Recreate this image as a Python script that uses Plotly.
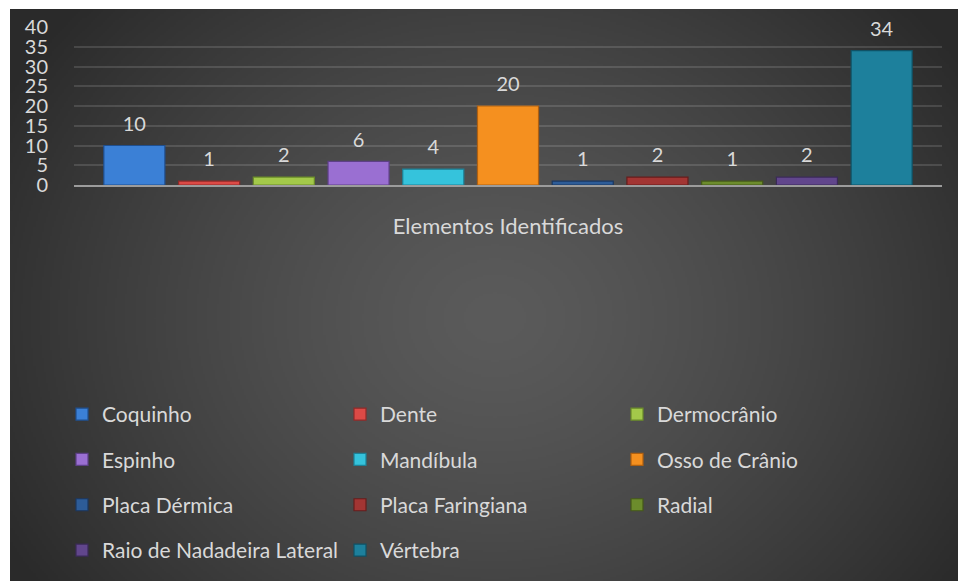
import base64, struct, zlib
import numpy as np
import plotly.graph_objects as go

# ---------------- data ----------------
categories = ["Elementos Identificados"]
series_names = ["Coquinho", "Dente", "Dermocrânio", "Espinho", "Mandíbula",
                "Osso de Crânio", "Placa Dérmica", "Placa Faringiana", "Radial",
                "Raio de Nadadeira Lateral", "Vértebra"]
series_values = [10, 1, 2, 6, 4, 20, 1, 2, 1, 2, 34]
series_colors = ["#3b80d6", "#dc4a46", "#a3c94a", "#9a6fd2", "#35c3dc", "#f5901f",
                 "#2d5c98", "#a23533", "#6c8c2c", "#61468c", "#1d809c"]
edge_colors = ["#1f4f8f", "#8f2a28", "#6a8a2a", "#5e4088", "#1d8298", "#b06010",
               "#1b3760", "#661d1c", "#45591a", "#3b2a58", "#0f5266"]
y_ticks = [0, 5, 10, 15, 20, 25, 30, 35, 40]

W, H = 958, 581
ML, MR, MT, MB = 74, 16, 27, 396
PW, PH = W - ML - MR, H - MT - MB

# ---------------- background gradient image ----------------
def gradient_png(w, h):
    yy, xx = np.mgrid[0:h, 0:w]
    cx, cy = w * 0.5, h * 0.52
    r = np.sqrt(((xx - cx) / (w * 0.58)) ** 2 + ((yy - cy) / (h * 0.8)) ** 2)
    r = np.clip(r, 0, 1)
    v = 91 - (91 - 42) * r ** 1.35
    v = v.astype(np.uint8)
    rgb = np.stack([v, v, v], axis=-1)
    raw = b"".join(b"\x00" + rgb[i].tobytes() for i in range(h))
    def chunk(t, d):
        c = struct.pack(">I", len(d)) + t + d
        return c + struct.pack(">I", zlib.crc32(t + d) & 0xffffffff)
    png = b"\x89PNG\r\n\x1a\n" + chunk(b"IHDR", struct.pack(">IIBBBBB", w, h, 8, 2, 0, 0, 0)) \
        + chunk(b"IDAT", zlib.compress(raw, 9)) + chunk(b"IEND", b"")
    return "data:image/png;base64," + base64.b64encode(png).decode()

bg_x0, bg_y0 = 10, 9
img = gradient_png(474, 286)

fig = go.Figure()

text_color = "#d9d9d9"
legend_ids = ["legend", "legend2", "legend3"]

for i, (name, val) in enumerate(zip(series_names, series_values)):
    fig.add_trace(go.Bar(
        x=categories, y=[val], name=name,
        marker=dict(color=series_colors[i], line=dict(color=edge_colors[i], width=1.2)),
        legend=legend_ids[i % 3], legendgroup=name,
        hoverinfo="skip",
    ))
for i, (name, val) in enumerate(zip(series_names, series_values)):
    fig.add_trace(go.Scatter(
        x=categories, y=[val], mode="markers+text", text=[str(val)],
        textposition="top center",
        textfont=dict(size=20, color=text_color, family="Lato"),
        marker=dict(size=14, opacity=0),
        showlegend=False, hoverinfo="skip", cliponaxis=False,
    ))

leg_font = 21
leg_common = dict(orientation="v", xref="container", yref="container",
                  xanchor="left", yanchor="top", bgcolor="rgba(0,0,0,0)",
                  font=dict(size=leg_font, color=text_color, family="Lato"),
                  tracegroupgap=45.3 - (1.3 * leg_font + 3),
                  itemclick=False, itemdoubleclick=False)
legend_top = 394

# white frame strips (top and left) in paper coordinates
px = lambda v: (v - ML) / PW
py = lambda v: (H - MB - v) / PH
frame = [
    dict(type="rect", xref="paper", yref="paper", x0=px(-5), x1=px(W + 5), y0=py(bg_y0), y1=py(-5),
         fillcolor="white", line=dict(width=0), layer="below"),
    dict(type="rect", xref="paper", yref="paper", x0=px(-5), x1=px(bg_x0), y0=py(H + 5), y1=py(-5),
         fillcolor="white", line=dict(width=0), layer="below"),
]

fig.update_layout(
    width=W, height=H,
    margin=dict(l=ML, r=MR, t=MT, b=MB, pad=0, autoexpand=False),
    paper_bgcolor="#2c2c2c",
    plot_bgcolor="rgba(0,0,0,0)",
    barmode="group", bargap=0.053, bargroupgap=0.183,
    scattermode="group", scattergap=0.053,
    showlegend=True,
    legend=dict(x=62 / W, y=1 - legend_top / H, **leg_common),
    legend2=dict(x=340 / W, y=1 - legend_top / H, **leg_common),
    legend3=dict(x=617 / W, y=1 - legend_top / H, **leg_common),
    xaxis=dict(showline=True, linecolor="#9c9c9c", linewidth=2,
               ticks="outside", ticklen=21, tickcolor="rgba(0,0,0,0)",
               tickfont=dict(size=22, color=text_color, family="Lato"),
               showgrid=False, fixedrange=True),
    yaxis=dict(range=[0, 40], tickvals=y_ticks, showgrid=True,
               gridcolor="rgba(255,255,255,0.13)", gridwidth=2,
               zeroline=False, showline=False,
               ticks="outside", ticklen=21, tickcolor="rgba(0,0,0,0)",
               tickfont=dict(size=20, color=text_color, family="Lato"),
               fixedrange=True),
    images=[dict(source=img, xref="paper", yref="paper",
                 x=px(bg_x0), y=py(bg_y0),
                 sizex=(W + 20 - bg_x0) / PW, sizey=(H + 20 - bg_y0) / PH,
                 xanchor="left", yanchor="top", sizing="stretch", layer="below")],
    shapes=frame,
)

fig.write_html(
    "out.html",
    config={"displayModeBar": False},
    post_script="document.body.style.margin='0';"
                "document.body.style.background='#2c2c2c';"
                "document.documentElement.style.background='#2c2c2c';"
                "document.documentElement.style.overflow='hidden';"
                "document.body.style.overflow='hidden';",
)
